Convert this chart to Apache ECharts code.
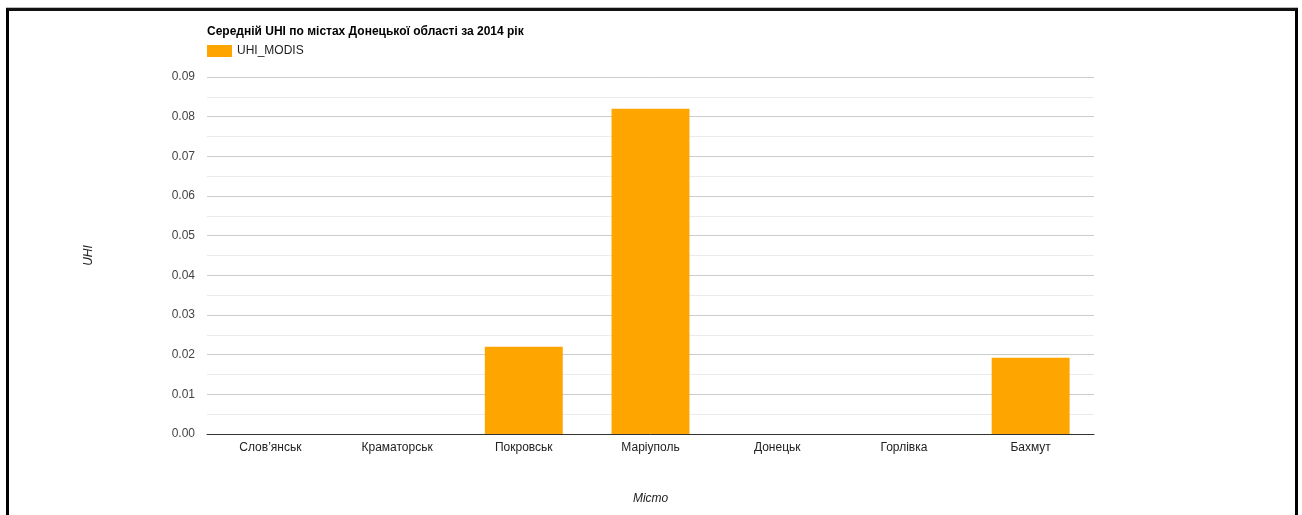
<!DOCTYPE html>
<html>
<head>
<meta charset="utf-8">
<script src="https://cdn.jsdelivr.net/npm/echarts@6/dist/echarts.min.js"></script>
<style>
html,body{margin:0;padding:0;background:#fff;overflow:hidden;}
#chart{position:absolute;left:0;top:0;width:1302px;height:515px;}
#frame{position:absolute;left:6px;top:8px;width:1286px;height:520px;border:3px solid #000;border-top-color:#111;pointer-events:none;box-shadow:0 -1px 0 #bbb;}
</style>
</head>
<body>
<div id="chart"></div>
<div id="frame"></div>
<script>
const titleText = 'Середній UHI по містах Донецької області за 2014 рік';
const seriesName = 'UHI_MODIS';
const categories = ['Слов\u2019янськ', 'Краматорськ', 'Покровськ', 'Маріуполь', 'Донецьк', 'Горлівка', 'Бахмут'];
const uhiValues = [0, 0, 0.022, 0.082, 0, 0, 0.0192];
const yTicks = { min: 0, max: 0.09, interval: 0.01 };

const chart = echarts.init(document.getElementById('chart'), null, { renderer: 'canvas' });
const font = 'Arial, "Liberation Sans", sans-serif';
chart.setOption({
  animation: false,
  textStyle: { fontFamily: font },
  title: {
    text: titleText, left: 202, top: 21,
    textStyle: { fontSize: 12, fontWeight: 'bold', color: '#000', fontFamily: font }
  },
  legend: {
    data: [seriesName], left: 202, top: 40, icon: 'rect',
    itemWidth: 25, itemHeight: 12, itemGap: 5,
    textStyle: { fontSize: 12, color: '#222', fontFamily: font }
  },
  grid: { left: 207, right: 208, top: 77, bottom: 81, containLabel: false },
  xAxis: {
    type: 'category', data: categories,
    name: 'Місто', nameLocation: 'middle', nameGap: 59,
    nameTextStyle: { fontStyle: 'italic', fontSize: 12, color: '#222', fontFamily: font },
    axisLine: { lineStyle: { color: '#333', width: 1 } },
    axisTick: { show: false },
    axisLabel: { fontSize: 12, color: '#222', margin: 8, fontFamily: font }
  },
  yAxis: {
    type: 'value', min: yTicks.min, max: yTicks.max, interval: yTicks.interval,
    name: 'UHI', nameLocation: 'middle', nameGap: 112,
    nameTextStyle: { fontStyle: 'italic', fontSize: 12, color: '#222', fontFamily: font },
    axisLine: { show: false }, axisTick: { show: false },
    axisLabel: { fontSize: 12, color: '#444', margin: 12, fontFamily: font,
      formatter: v => v.toFixed(2) },
    splitLine: { lineStyle: { color: '#ccc', width: 1 } },
    minorTick: { show: false, splitNumber: 2 },
    minorSplitLine: { show: true, lineStyle: { color: '#ebebeb', width: 1 } }
  },
  series: [{
    name: seriesName, type: 'bar', data: uhiValues,
    barWidth: '61.5%',
    itemStyle: { color: '#FFA500' }
  }]
});
</script>
</body>
</html>
